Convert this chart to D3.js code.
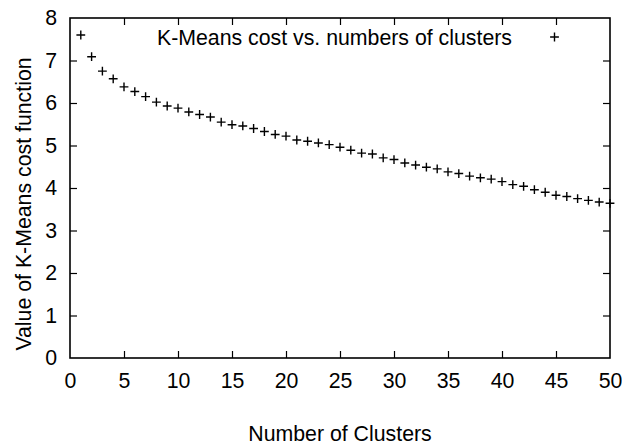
<!DOCTYPE html>
<html>
<head>
<meta charset="utf-8">
<script src="https://cdn.jsdelivr.net/npm/d3@7"></script>
<style>
  html, body { margin: 0; padding: 0; background: #fff; }
  svg { display: block; font-family: "Liberation Sans", Arial, Helvetica, sans-serif; }
</style>
</head>
<body>
<svg id="chart" width="622" height="445"></svg>
<script>
// Number of clusters (k) tried in the K-Means runs
const clusters = d3.range(1, 51);
// Cost function value for each k
const costValues = [
  7.60, 7.09, 6.75, 6.57, 6.38, 6.27, 6.15, 6.02, 5.93, 5.88,
  5.79, 5.73, 5.67, 5.55, 5.49, 5.46, 5.40, 5.33, 5.26, 5.22,
  5.13, 5.10, 5.06, 5.02, 4.96, 4.89, 4.82, 4.80, 4.71, 4.67,
  4.59, 4.54, 4.49, 4.45, 4.38, 4.34, 4.28, 4.24, 4.21, 4.15,
  4.08, 4.04, 3.96, 3.90, 3.83, 3.80, 3.75, 3.71, 3.67, 3.64
];
const xTicks = [0, 5, 10, 15, 20, 25, 30, 35, 40, 45, 50];
const yTicks = [0, 1, 2, 3, 4, 5, 6, 7, 8];
const seriesLabel = "K-Means cost vs. numbers of clusters";
const xTitle = "Number of Clusters";
const yTitle = "Value of K-Means cost function";

const svg = d3.select("#chart");
const plot = { left: 70, right: 610, top: 18, bottom: 358 };

const x = d3.scaleLinear().domain([0, 50]).range([plot.left, plot.right]);
const y = d3.scaleLinear().domain([0, 8]).range([plot.bottom, plot.top]);

const tickLen = 7;
const fontSize = 21.3;

// Bottom axis with labels, ticks pointing inward
const axisB = svg.append("g")
  .attr("transform", `translate(0,${plot.bottom})`)
  .call(d3.axisBottom(x).tickValues(xTicks).tickSize(-tickLen).tickPadding(15).tickFormat(d3.format("d")));
// Top mirror ticks
const axisT = svg.append("g")
  .attr("transform", `translate(0,${plot.top})`)
  .call(d3.axisTop(x).tickValues(xTicks).tickSize(-tickLen).tickFormat(""));
// Left axis with labels
const axisL = svg.append("g")
  .attr("transform", `translate(${plot.left},0)`)
  .call(d3.axisLeft(y).tickValues(yTicks).tickSize(-tickLen).tickPadding(13).tickFormat(d3.format("d")));
// Right mirror ticks
const axisR = svg.append("g")
  .attr("transform", `translate(${plot.right},0)`)
  .call(d3.axisRight(y).tickValues(yTicks).tickSize(-tickLen).tickFormat(""));

[axisB, axisT, axisL, axisR].forEach(g => {
  g.select(".domain").remove();
  g.selectAll(".tick line").attr("stroke", "#000").attr("stroke-width", 1.2);
  g.selectAll(".tick text")
    .attr("fill", "#000")
    .style("font-size", fontSize + "px")
    .style("font-family", "'Liberation Sans', Arial, sans-serif");
});
// Ticks at the frame corners are covered by the border itself
axisB.selectAll(".tick line").filter(d => d === 0 || d === 50).remove();
axisT.selectAll(".tick line").filter(d => d === 0 || d === 50).remove();
axisL.selectAll(".tick line").filter(d => d === 0 || d === 8).remove();
axisR.selectAll(".tick line").filter(d => d === 0 || d === 8).remove();

// Plot frame
svg.append("rect")
  .attr("x", plot.left).attr("y", plot.top)
  .attr("width", plot.right - plot.left).attr("height", plot.bottom - plot.top)
  .attr("fill", "none").attr("stroke", "#000").attr("stroke-width", 1.6);

// "+" point marker path
const half = 4.4;
const plusPath = (cx, cy) => `M${cx - half},${cy}H${cx + half}M${cx},${cy - half}V${cy + half}`;

svg.append("g")
  .selectAll("path")
  .data(clusters.map((k, i) => ({ k, v: costValues[i] })))
  .join("path")
  .attr("d", d => plusPath(x(d.k), y(d.v)))
  .attr("stroke", "#000")
  .attr("stroke-width", 1.4)
  .attr("fill", "none");

// Legend entry
const legendX = x(45) - 1.5;
const legendY = 37;
svg.append("path")
  .attr("d", plusPath(legendX, legendY))
  .attr("stroke", "#000").attr("stroke-width", 1.4);
svg.append("text")
  .attr("x", 512)
  .attr("y", 44.5)
  .attr("text-anchor", "end")
  .style("font-size", fontSize + "px")
  .attr("fill", "#000")
  .text(seriesLabel);

// Axis titles
svg.append("text")
  .attr("x", (plot.left + plot.right) / 2)
  .attr("y", 441)
  .attr("text-anchor", "middle")
  .style("font-size", fontSize + "px")
  .attr("fill", "#000")
  .text(xTitle);

svg.append("text")
  .attr("transform", `translate(31,204) rotate(-90)`)
  .attr("text-anchor", "middle")
  .style("font-size", fontSize + "px")
  .attr("fill", "#000")
  .text(yTitle);
</script>
</body>
</html>
